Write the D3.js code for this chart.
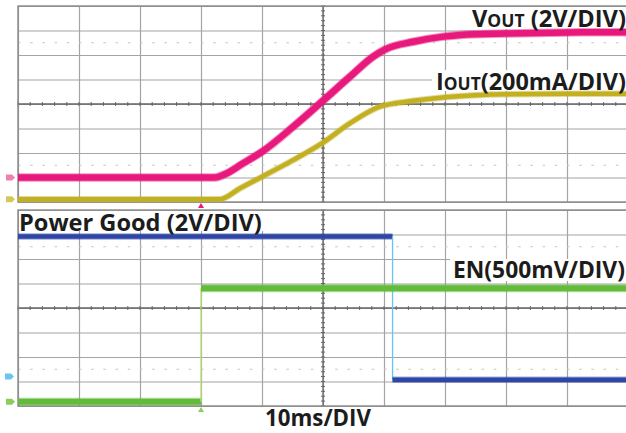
<!DOCTYPE html>
<html><head><meta charset="utf-8">
<script src="https://cdn.jsdelivr.net/npm/d3@7"></script>
<style>html,body{margin:0;padding:0;background:#fff;}svg{display:block;}</style>
</head><body>
<svg id="c" width="626" height="433"></svg>
<script>
// ---- data (time in ms, level in divisions) ----
const voutTime  = [-50, -17.8, -16.2, -13.1, -10, -4.9, -0.2, 4.4, 8.2, 10.2, 14.8, 19.7, 22.5, 30, 40, 50];
const voutLevel = [1.0, 1.0, 1.12, 1.58, 2.05, 3.07, 4.09, 5.11, 5.93, 6.23, 6.54, 6.75, 6.82, 6.88, 6.92, 6.93];
const ioutTime  = [-50, -17.0, -13.6, -10, -4.9, -0.2, 4.4, 9.3, 14.8, 20, 25, 30, 40, 50];
const ioutLevel = [0.11, 0.11, 0.56, 1.03, 1.71, 2.39, 3.21, 3.89, 4.13, 4.28, 4.36, 4.40, 4.42, 4.42];
const pgTime    = [-50, 11.4, 11.4, 50];
const pgLevel   = [6.92, 6.92, 1.07, 1.07];
const enTime    = [-50, -20, -20, 50];
const enLevel   = [0.17, 0.17, 4.81, 4.81];
const timeDivs  = [-50, -40, -30, -20, -10, 0, 10, 20, 30, 40, 50];
const levelDivs = [0, 1, 2, 3, 4, 5, 6, 7, 8];
const labels = {
  vout: ["V", "OUT", " (2V/DIV)"],
  iout: ["I", "OUT", "(200mA/DIV)"],
  pg: "Power Good (2V/DIV)",
  en: "EN(500mV/DIV)",
  time: "10ms/DIV"
};

const svg = d3.select("#c");
const x = d3.scaleLinear().domain([-50, 50]).range([18, 628]);
const yTop = d3.scaleLinear().domain([0, 8]).range([202, 6]);
const yBot = d3.scaleLinear().domain([0, 8]).range([406, 210]);

function panel(y) {
  const g = svg.append("g");
  const [y0, y1] = [y.range()[1], y.range()[0]];
  g.append("g").attr("transform", `translate(0,${y0})`)
    .call(d3.axisTop(x).tickValues(timeDivs).tickSize(-(y1 - y0)).tickFormat(""))
    .call(s => { s.select(".domain").remove(); s.selectAll("line").attr("stroke", "#a4a4a4").attr("stroke-width", 1.2); });
  g.append("g").attr("transform", `translate(${x(-50)},0)`)
    .call(d3.axisLeft(y).tickValues(levelDivs).tickSize(-(x(50) - x(-50))).tickFormat(""))
    .call(s => { s.select(".domain").remove(); s.selectAll("line").attr("stroke", "#a4a4a4").attr("stroke-width", 1.2); });
  [1.5, 6.5].forEach(v => {
    g.append("line").attr("x1", x(-50)).attr("x2", x(50)).attr("y1", y(v)).attr("y2", y(v))
      .attr("stroke", "#c4c4c4").attr("stroke-width", 1.2).attr("stroke-dasharray", "2.5,9.7");
  });
  g.append("line").attr("x1", x(-50)).attr("x2", x(50)).attr("y1", y(4)).attr("y2", y(4))
    .attr("stroke", "#666").attr("stroke-width", 1.3);
  g.append("line").attr("x1", x(0)).attr("x2", x(0)).attr("y1", y0).attr("y2", y1)
    .attr("stroke", "#666").attr("stroke-width", 1.3);
  d3.range(-50, 50.01, 2).forEach(t => {
    g.append("line").attr("x1", x(t)).attr("x2", x(t)).attr("y1", y(4) - 2).attr("y2", y(4) + 2)
      .attr("stroke", "#666").attr("stroke-width", 1);
  });
  d3.range(0, 8.01, 0.2).forEach(v => {
    g.append("line").attr("x1", x(0) - 2).attr("x2", x(0) + 2).attr("y1", y(v)).attr("y2", y(v))
      .attr("stroke", "#666").attr("stroke-width", 1);
  });
  g.append("rect").attr("x", x(-50)).attr("y", y0).attr("width", x(50) - x(-50)).attr("height", y1 - y0)
    .attr("fill", "none").attr("stroke", "#888").attr("stroke-width", 1.4);
}
panel(yTop);
panel(yBot);

function box(x0, y0, x1, y1) {
  svg.append("rect").attr("x", x0).attr("y", y0).attr("width", x1 - x0).attr("height", y1 - y0).attr("fill", "#fff");
}
box(19, 211, 264, 231);
box(467, 7, 626, 29);
box(432, 70, 626, 91);
box(450, 259, 626, 281);

function trace(times, levels, y, color, w, curve) {
  const pts = times.map((t, i) => [t, levels[i]]);
  const line = d3.line().x(d => x(d[0])).y(d => y(d[1])).curve(curve);
  svg.append("path").attr("d", line(pts)).attr("fill", "none").attr("stroke", color)
    .attr("stroke-opacity", 0.45).attr("stroke-width", w + 2).attr("stroke-linejoin", "round");
  svg.append("path").attr("d", line(pts)).attr("fill", "none").attr("stroke", color)
    .attr("stroke-width", w).attr("stroke-linejoin", "round");
}
trace(ioutTime, ioutLevel, yTop, "#c2b022", 4.5, d3.curveMonotoneX);
trace(voutTime, voutLevel, yTop, "#e8197c", 6.5, d3.curveMonotoneX);

function stepTrace(times, levels, y, color, w, edgeColor) {
  for (let i = 0; i < times.length - 1; i++) {
    const a = [times[i], levels[i]], b = [times[i + 1], levels[i + 1]];
    const vertical = a[0] === b[0];
    if (vertical) {
      svg.append("line").attr("x1", x(a[0])).attr("x2", x(b[0])).attr("y1", y(a[1])).attr("y2", y(b[1]))
        .attr("stroke", edgeColor).attr("stroke-width", 1.3);
    } else {
      svg.append("line").attr("x1", x(a[0])).attr("x2", x(b[0])).attr("y1", y(a[1])).attr("y2", y(b[1]))
        .attr("stroke", color).attr("stroke-opacity", 0.45).attr("stroke-width", w + 2);
      svg.append("line").attr("x1", x(a[0])).attr("x2", x(b[0])).attr("y1", y(a[1])).attr("y2", y(b[1]))
        .attr("stroke", color).attr("stroke-width", w);
    }
  }
}
stepTrace(pgTime, pgLevel, yBot, "#2f46a6", 4.5, "#62c6f2");
stepTrace(enTime, enLevel, yBot, "#62bb3a", 6, "#b8e070");

function marker(x0, yy, color) {
  svg.append("path").attr("d", `M${x0},${yy - 3}h6l3,3l-3,3h-6z`).attr("fill", color);
}
marker(6, yTop(voutLevel[0]), "#f07fb2");
marker(6, yTop(ioutLevel[0]), "#d6c75a");
marker(5, yBot(1.2), "#6cc5ee");
marker(6, yBot(enLevel[0]), "#8ccd5c");
function trig(t, yy, color) {
  svg.append("path").attr("d", `M${x(t)},${yy - 3}l3,5h-6z`).attr("fill", color);
}
trig(-20, 206, "#e8197c");
trig(-20, 410, "#8ccd5c");

function label(parts, left, base, width, big) {
  const t = svg.append("text").attr("x", left).attr("y", base)
    .attr("font-family", "'Open Sans', sans-serif").attr("font-weight", 700).attr("fill", "#1c1c1c");
  if (Array.isArray(parts)) {
    t.append("tspan").attr("class", "b").text(parts[0]);
    t.append("tspan").attr("class", "s").text(parts[1]);
    t.append("tspan").attr("class", "b").text(parts[2]);
  } else t.append("tspan").attr("class", "b").text(parts);
  const apply = fs => { t.selectAll(".b").attr("font-size", fs); t.selectAll(".s").attr("font-size", fs * 0.74); };
  apply(big);
  const w0 = t.node().getBBox().width;
  apply(big * width / w0);
}
label(labels.pg, 19, 231, 243, 22);
label(labels.vout, 472, 26.5, 154, 22);
label(labels.iout, 436, 90, 190, 22);
label(labels.en, 453, 277.5, 172, 22);
label(labels.time, 265, 426, 106, 20);
</script>
</body></html>
